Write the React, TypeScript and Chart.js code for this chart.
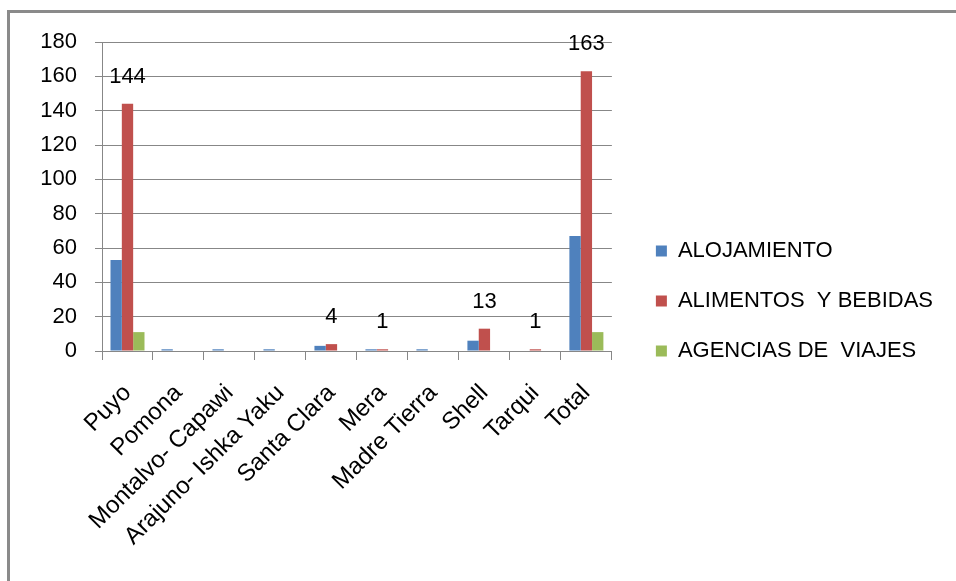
import React, { useEffect, useRef } from "react";
import { Chart, registerables } from "chart.js";

Chart.register(...registerables);

const categories = [
  "Puyo",
  "Pomona",
  "Montalvo- Capawi",
  "Arajuno- Ishka Yaku",
  "Santa Clara",
  "Mera",
  "Madre Tierra",
  "Shell",
  "Tarqui",
  "Total",
];
const seriesNames = ["ALOJAMIENTO", "ALIMENTOS  Y BEBIDAS", "AGENCIAS DE  VIAJES"];
const alojamiento = [53, 1, 1, 1, 3, 1, 1, 6, 0, 67];
const alimentos = [144, 0, 0, 0, 4, 1, 0, 13, 1, 163];
const agencias = [11, 0, 0, 0, 0, 0, 0, 0, 0, 11];
const colors = ["#4F81BD", "#C0504D", "#9BBB59"];
const yMin = 0;
const yMax = 180;
const yStep = 20;

const FONT = "'Liberation Sans', Arial, sans-serif";
const GRID = "#878787";

const labelPlugin = {
  id: "valueLabels",
  afterDatasetsDraw(chart: any) {
    const ctx = chart.ctx;
    const meta = chart.getDatasetMeta(1);
    const data = chart.data.datasets[1].data as number[];
    ctx.save();
    ctx.font = `22px ${FONT}`;
    ctx.fillStyle = "#000";
    ctx.textAlign = "center";
    ctx.textBaseline = "middle";
    meta.data.forEach((bar: any, i: number) => {
      if (data[i] > 0) ctx.fillText(String(data[i]), bar.x, bar.y - 27);
    });
    ctx.restore();
  },
};

export default function App() {
  const ref = useRef<HTMLCanvasElement | null>(null);
  useEffect(() => {
    if (!ref.current) return;
    const chart = new Chart(ref.current, {
      type: "bar",
      data: {
        labels: categories,
        datasets: [alojamiento, alimentos, agencias].map((d, i) => ({
          label: seriesNames[i],
          data: d,
          backgroundColor: colors[i],
          borderColor: colors[i],
          borderWidth: 0,
          categoryPercentage: 0.667,
          barPercentage: 1.0,
          yAxisID: "y",
        })),
      },
      options: {
        responsive: false,
        animation: false,
        layout: { padding: { top: 42, bottom: 21, left: 0, right: 13 } },
        plugins: {
          tooltip: { enabled: false },
          legend: {
            position: "right",
            align: "center",
            maxWidth: 500,
            labels: {
              boxWidth: 11,
              boxHeight: 11,
              padding: 28,
              color: "#000",
              font: { family: FONT, size: 22 },
            },
          },
        },
        scales: {
          x: {
            afterFit: (s: any) => {
              s.height = 209;
            },
            grid: {
              offset: true,
              drawOnChartArea: false,
              drawTicks: true,
              tickLength: 9,
              color: GRID,
            },
            border: { color: GRID },
            ticks: {
              minRotation: 45,
              maxRotation: 45,
              autoSkip: false,
              color: "#000",
              padding: 19,
              font: { family: FONT, size: 24 },
            },
          },
          y: {
            min: yMin,
            max: yMax,
            afterFit: (s: any) => {
              s.width = 102;
            },
            grid: { color: GRID, tickLength: 7 },
            border: { color: GRID },
            ticks: {
              stepSize: yStep,
              color: "#000",
              padding: 18,
              font: { family: FONT, size: 22 },
            },
          },
          spacer: {
            position: "right",
            display: true,
            afterFit: (s: any) => {
              s.width = 16;
            },
            grid: { display: false, drawTicks: false },
            border: { display: false },
            ticks: { display: false },
          },
        },
      },
      plugins: [labelPlugin],
    } as any);
    return () => chart.destroy();
  }, []);

  return (
    <>
      <div
        style={{
          position: "fixed",
          left: 7,
          top: 10,
          width: 1200,
          height: 1000,
          border: "3px solid #8a8a8a",
          boxSizing: "border-box",
        }}
      />
      <canvas
        ref={ref}
        width={956}
        height={581}
        style={{ position: "fixed", left: 0, top: 0, display: "block" }}
      />
    </>
  );
}
